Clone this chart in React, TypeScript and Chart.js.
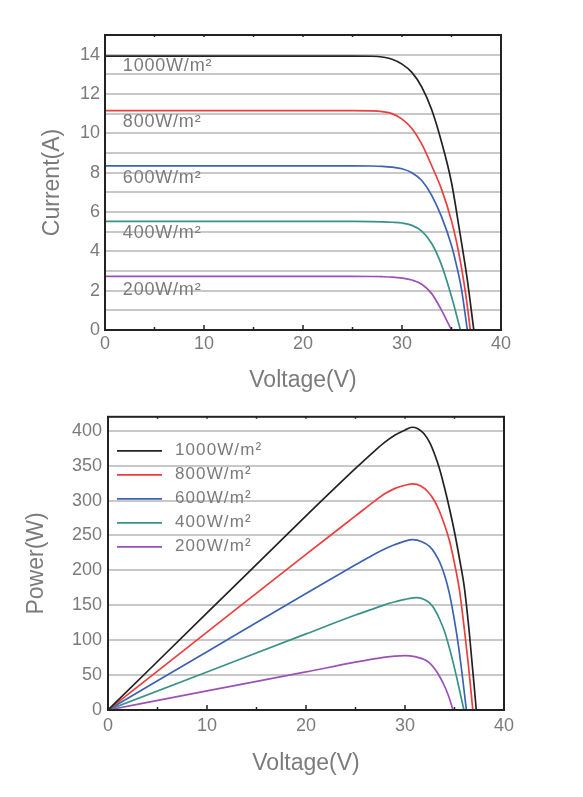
import { useEffect, useRef } from "react";
import { Chart, registerables } from "chart.js";

Chart.register(...registerables);

// ---- data ----
const seriesLabels = ["1000W/m²", "800W/m²", "600W/m²", "400W/m²", "200W/m²"];
const seriesColors = ["#222222", "#ee3d3d", "#3c62b4", "#3a918a", "#9c52b4"];

// I-V curves (voltage V, current A)
const ivV1000 = [0, 10, 20, 25, 27, 28, 29, 30, 31, 32, 33, 34, 35, 35.8, 36.6, 37.25];
const ivI1000 = [13.93, 13.93, 13.93, 13.93, 13.92, 13.88, 13.77, 13.52, 13.1, 12.35, 11.2, 9.55, 7.5, 5.1, 2.55, 0];

const ivV800 = [0, 10, 20, 25, 27, 28, 29, 30, 31, 32, 33, 34, 35, 35.5, 36, 36.5, 36.9];
const ivI800 = [11.15, 11.15, 11.15, 11.15, 11.14, 11.1, 11.0, 10.72, 10.25, 9.45, 8.35, 7.15, 5.55, 4.5, 3.2, 1.6, 0];

const ivV600 = [0, 10, 20, 25, 27, 28, 29, 30, 31, 32, 33, 34, 35, 35.5, 36, 36.6];
const ivI600 = [8.35, 8.35, 8.35, 8.35, 8.34, 8.32, 8.28, 8.2, 8.0, 7.6, 6.85, 5.75, 4.3, 3.3, 2.1, 0];

const ivV400 = [0, 10, 20, 25, 27, 28, 29, 30, 31, 32, 33, 34, 35, 35.9];
const ivI400 = [5.52, 5.52, 5.52, 5.52, 5.51, 5.5, 5.48, 5.44, 5.32, 5.03, 4.4, 3.3, 1.7, 0];

const ivV200 = [0, 10, 20, 25, 27, 28, 29, 30, 31, 32, 33, 34, 35];
const ivI200 = [2.73, 2.73, 2.73, 2.73, 2.72, 2.71, 2.69, 2.64, 2.54, 2.33, 1.85, 1.0, 0];

// P-V curves (voltage V, power W)
const pvV1000 = [0, 10, 20, 25, 27, 28, 29, 30, 30.7, 31.3, 31.9, 32.5, 33, 33.5, 34, 34.5, 35, 35.5, 36, 36.5, 37.2];
const pvP1000 = [0, 139, 278, 346, 372, 384, 394, 401, 405, 403, 396, 383, 366, 345, 318, 288, 255, 217, 175, 110, 0];

const pvV800 = [0, 10, 20, 25, 27, 28, 29, 30, 30.8, 31.6, 32.3, 33, 33.5, 34, 34.5, 35, 35.5, 36, 36.4, 36.85];
const pvP800 = [0, 111.5, 223, 278, 300, 310, 317.5, 322, 324, 321, 313, 299, 284, 265, 242, 210, 172, 115, 65, 0];

const pvV600 = [0, 10, 20, 25, 27, 28, 29, 30, 30.8, 31.7, 32.5, 33, 33.5, 34, 34.5, 35, 35.4, 35.8, 36.2];
const pvP600 = [0, 83.5, 167, 208, 224, 231, 237, 242, 244, 241, 234, 225, 212, 193, 166, 128, 92, 48, 0];

const pvV400 = [0, 10, 20, 25, 27, 28, 29, 30, 31.2, 32, 32.5, 33, 33.5, 34, 34.5, 35, 35.5, 35.95];
const pvP400 = [0, 54.5, 109, 136, 146, 151, 155, 158.5, 161, 158, 153, 144, 130, 112, 88, 60, 29, 0];

const pvV200 = [0, 10, 20, 25, 27, 28, 29, 30, 31, 32, 32.5, 33, 33.5, 34, 34.4, 34.85];
const pvP200 = [0, 27.3, 54.5, 68.5, 73.5, 75.8, 77.3, 78, 76.5, 72, 67, 59, 48, 34, 20, 0];

const ivVoltages = [ivV1000, ivV800, ivV600, ivV400, ivV200];
const ivCurrents = [ivI1000, ivI800, ivI600, ivI400, ivI200];
const pvVoltages = [pvV1000, pvV800, pvV600, pvV400, pvV200];
const pvPowers = [pvP1000, pvP800, pvP600, pvP400, pvP200];

// label positions on the I-V chart (data units)
const ivLabelX = 1.8;
const ivLabelY = [13.4, 10.55, 7.75, 4.95, 2.05];

const xMin = 0, xMax = 40, xStep = 5;
const iMin = 0, iMax = 15;
const iTicks = [0, 1, 2, 3, 4, 5, 6, 7, 8, 9, 10, 11, 12, 13, 14, 15];
const pMin = 0, pMax = 420;
const pTicks = [0, 50, 100, 150, 200, 250, 300, 350, 400];

// ---- style ----
const TEXT = "#7b7b7b";
const FONT = "'Liberation Sans', Arial, Helvetica, sans-serif";
const GRID = "#c8c8c8";

const framePlugin = {
  id: "frame",
  afterDatasetsDraw(chart: any) {
    const { ctx, chartArea } = chart;
    const xs = chart.scales.x;
    ctx.save();
    ctx.strokeStyle = "#222";
    ctx.lineWidth = 2;
    ctx.strokeRect(chartArea.left, chartArea.top, chartArea.right - chartArea.left, chartArea.bottom - chartArea.top);
    ctx.lineWidth = 1.5;
    for (let v = xMin; v <= xMax; v += xStep) {
      const px = xs.getPixelForValue(v);
      const len = v % 10 === 0 ? 5 : 3;
      ctx.beginPath();
      ctx.moveTo(px, chartArea.bottom);
      ctx.lineTo(px, chartArea.bottom - len);
      ctx.stroke();
      ctx.beginPath();
      ctx.moveTo(px, chartArea.top);
      ctx.lineTo(px, chartArea.top + 2);
      ctx.stroke();
    }
    ctx.restore();
  },
};

const ivLabelPlugin = {
  id: "ivLabels",
  afterDatasetsDraw(chart: any) {
    const { ctx } = chart;
    const xs = chart.scales.x;
    const ys = chart.scales.y;
    ctx.save();
    ctx.fillStyle = TEXT;
    ctx.font = `18px ${FONT}`;
    (ctx as any).letterSpacing = "0.8px";
    ctx.textAlign = "left";
    ctx.textBaseline = "middle";
    seriesLabels.forEach((l, k) => {
      ctx.fillText(l, xs.getPixelForValue(ivLabelX), ys.getPixelForValue(ivLabelY[k]));
    });
    ctx.restore();
  },
};

const pvLegendPlugin = {
  id: "pvLegend",
  afterDatasetsDraw(chart: any) {
    const { ctx, chartArea } = chart;
    ctx.save();
    ctx.font = `17px ${FONT}`;
    (ctx as any).letterSpacing = "1.1px";
    ctx.textAlign = "left";
    ctx.textBaseline = "middle";
    seriesLabels.forEach((l, k) => {
      const y = chartArea.top + 34 + k * 24;
      ctx.strokeStyle = seriesColors[k];
      ctx.lineWidth = 1.7;
      ctx.beginPath();
      ctx.moveTo(chartArea.left + 9, y);
      ctx.lineTo(chartArea.left + 54, y);
      ctx.stroke();
      ctx.fillStyle = TEXT;
      ctx.fillText(l, chartArea.left + 67, y);
    });
    ctx.restore();
  },
};

function makeDatasets(xArrays: number[][], yArrays: number[][]) {
  return seriesLabels.map((label, k) => ({
    label,
    data: xArrays[k].map((v, j) => ({ x: v, y: yArrays[k][j] })),
    borderColor: seriesColors[k],
    backgroundColor: seriesColors[k],
    borderWidth: 1.7,
    pointRadius: 0,
    cubicInterpolationMode: "monotone" as const,
    fill: false,
  }));
}

function makeOptions(opts: {
  yMin: number; yMax: number; yTicks: number[]; yLabelEvery: number;
  yTitle: string; padding: any; yWidth: number; xHeight: number;
  yTitlePad: number; xTitlePad: number; yTickPad: number; xTickPad: number;
}) {
  return {
    animation: false,
    responsive: false,
    maintainAspectRatio: false,
    layout: { padding: opts.padding },
    plugins: { legend: { display: false }, tooltip: { enabled: false } },
    scales: {
      x: {
        type: "linear",
        min: xMin,
        max: xMax,
        ticks: {
          stepSize: xStep,
          autoSkip: false,
          maxRotation: 0,
          callback: (v: any) => (Number(v) % 10 === 0 ? String(v) : ""),
          color: TEXT,
          font: { family: FONT, size: 18 },
          padding: opts.xTickPad,
        },
        grid: { display: false, drawTicks: false },
        border: { display: false },
        title: {
          display: true,
          text: "Voltage(V)",
          color: TEXT,
          font: { family: FONT, size: 23 },
          padding: { top: 0, bottom: opts.xTitlePad },
        },
        afterFit: (s: any) => { s.height = opts.xHeight; },
      },
      y: {
        type: "linear",
        min: opts.yMin,
        max: opts.yMax,
        afterBuildTicks: (s: any) => { s.ticks = opts.yTicks.map((v) => ({ value: v })); },
        ticks: {
          autoSkip: false,
          callback: (v: any) => (Number(v) % opts.yLabelEvery === 0 ? String(v) : ""),
          color: TEXT,
          font: { family: FONT, size: 18 },
          padding: opts.yTickPad,
        },
        grid: { color: GRID, lineWidth: 2, drawTicks: false },
        border: { display: false },
        title: {
          display: true,
          text: opts.yTitle,
          color: TEXT,
          font: { family: FONT, size: 23 },
          padding: { top: opts.yTitlePad, bottom: 0 },
        },
        afterFit: (s: any) => { s.width = opts.yWidth; },
      },
    },
  };
}

export default function App() {
  const ivRef = useRef<HTMLCanvasElement>(null);
  const pvRef = useRef<HTMLCanvasElement>(null);

  useEffect(() => {
    const iv = new Chart(ivRef.current as HTMLCanvasElement, {
      type: "line",
      data: { datasets: makeDatasets(ivVoltages, ivCurrents) } as any,
      options: makeOptions({
        yMin: iMin, yMax: iMax, yTicks: iTicks, yLabelEvery: 2,
        yTitle: "Current(A)",
        padding: { left: 0, top: 35, right: 82, bottom: 0 },
        yWidth: 105, xHeight: 70, yTitlePad: 39, xTitlePad: 6, yTickPad: 5, xTickPad: 3,
      }) as any,
      plugins: [framePlugin, ivLabelPlugin],
    });
    const pv = new Chart(pvRef.current as HTMLCanvasElement, {
      type: "line",
      data: { datasets: makeDatasets(pvVoltages, pvPowers) } as any,
      options: makeOptions({
        yMin: pMin, yMax: pMax, yTicks: pTicks, yLabelEvery: 50,
        yTitle: "Power(W)",
        padding: { left: 0, top: 14, right: 79, bottom: 0 },
        yWidth: 108, xHeight: 87, yTitlePad: 23, xTitlePad: 20, yTickPad: 6, xTickPad: 5,
      }) as any,
      plugins: [framePlugin, pvLegendPlugin],
    });
    return () => {
      iv.destroy();
      pv.destroy();
    };
  }, []);

  return (
    <div style={{ position: "absolute", left: 0, top: 0, width: 583, height: 797, background: "#fff" }}>
      <canvas ref={ivRef} width={583} height={400} style={{ position: "absolute", left: 0, top: 0, width: 583, height: 400 }} />
      <canvas ref={pvRef} width={583} height={397} style={{ position: "absolute", left: 0, top: 400, width: 583, height: 397 }} />
    </div>
  );
}
